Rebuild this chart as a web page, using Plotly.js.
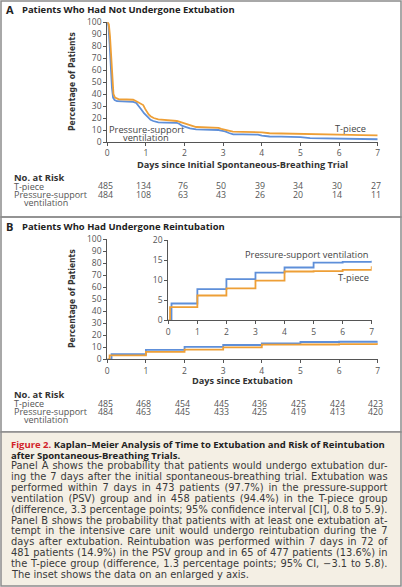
<!DOCTYPE html>
<html><head><meta charset="utf-8">
<script src="https://cdn.plot.ly/plotly-3.0.1.min.js"></script>
<style>html,body{margin:0;padding:0;background:#fff;}#chart{width:402px;height:587px;}</style>
</head><body><div id="chart"></div>
<script>
// ---------- Panel A data (percentage not yet extubated) ----------
const daysA_T = [0, 0.04, 0.07, 0.1, 0.13, 0.16, 0.2, 0.3, 0.5, 0.67, 0.75, 0.85, 0.93, 0.98, 1.02, 1.07, 1.12, 1.2, 1.32, 1.5, 1.7, 1.8, 1.9, 2.0, 2.1, 2.2, 2.3, 2.5, 2.7, 2.88, 2.95, 3.05, 3.15, 3.25, 3.5, 3.8, 4.0, 4.2, 4.5, 5.0, 5.3, 5.6, 6.0, 6.3, 6.6, 7.0];
const pctA_T  = [100, 98, 88, 70, 52, 40, 37, 35.6, 35.4, 35.2, 34, 32.5, 30.8, 27.6, 25, 23, 21.5, 20, 18.9, 18.6, 18, 17.5, 16.5, 15.7, 14.6, 13.5, 12.5, 12.2, 12, 11.8, 11, 10.2, 9.2, 8.7, 8.5, 8.3, 8.0, 7.3, 7.2, 7.0, 6.8, 6.6, 6.3, 6.0, 5.8, 5.6];
const daysA_P = [0, 0.03, 0.06, 0.09, 0.12, 0.15, 0.19, 0.25, 0.45, 0.67, 0.75, 0.82, 0.89, 0.95, 1.0, 1.06, 1.12, 1.19, 1.32, 1.5, 1.8, 1.87, 1.93, 2.0, 2.14, 2.3, 2.6, 2.88, 2.95, 3.05, 3.15, 3.26, 3.5, 3.9, 4.0, 4.2, 4.5, 5.0, 5.25, 5.5, 6.0, 6.3, 6.6, 7.0];
const pctA_P  = [100, 96, 82, 62, 45, 37, 35, 34, 33.7, 33.5, 32.5, 30, 26.7, 24, 22.3, 19.7, 18.5, 17.5, 16.4, 16.2, 16, 15, 13.6, 12.9, 11.4, 10.6, 10.4, 10, 9.5, 8.9, 7.5, 6.4, 6.3, 6.2, 5.4, 4.6, 4.4, 4.1, 3.3, 3.1, 2.9, 2.7, 2.5, 2.3];

// ---------- Panel B data (percentage reintubated) ----------
const daysB_T = [0, 0.06, 1, 2, 3, 4, 5, 6, 7, 7];
const pctB_T  = [0, 3.3, 6.2, 8.0, 9.9, 12.2, 12.3, 12.6, 12.6, 13.5];
const daysB_P = [0, 0.11, 1, 2, 3, 4, 5, 6, 7, 7];
const pctB_P  = [0, 4.2, 7.8, 10.3, 11.9, 13.2, 14.4, 14.6, 14.6, 14.9];

// ---------- Numbers at risk ----------
const riskDays  = [0, 1, 2, 3, 4, 5, 6, 7];
const riskA_T   = [485, 134, 76, 50, 39, 34, 30, 27];
const riskA_P   = [484, 108, 63, 43, 26, 20, 14, 11];
const riskB_T   = [485, 468, 454, 445, 436, 425, 424, 423];
const riskB_P   = [484, 463, 445, 433, 425, 419, 413, 420];

// ---------- Caption text ----------
const capTitle = [
  'Kaplan\u2013Meier Analysis of Time to Extubation and Risk of Reintubation',
  'after Spontaneous-Breathing Trials.'
];
const capBody = [
  'Panel A shows the probability that patients would undergo extubation dur-',
  'ing the 7 days after the initial spontaneous-breathing trial. Extubation was',
  'performed within 7 days in 473 patients (97.7%) in the pressure-support',
  'ventilation (PSV) group and in 458 patients (94.4%) in the T-piece group',
  '(difference, 3.3 percentage points; 95% confidence interval [CI], 0.8 to 5.9).',
  'Panel B shows the probability that patients with at least one extubation at-',
  'tempt in the intensive care unit would undergo reintubation during the 7',
  'days after extubation. Reintubation was performed within 7 days in 72 of',
  '481 patients (14.9%) in the PSV group and in 65 of 477 patients (13.6%) in',
  'the T-piece group (difference, 1.3 percentage points; 95% CI, \u22123.1 to 5.8).',
  'The inset shows the data on an enlarged y axis.'
];

const W = 402, H = 587;
const py = p => 1 - p / H;
const px = p => p / W;
const ORANGE = '#EE9F36', BLUE = '#5E8FD9';
const FONT = '"Open Sans", "Noto Sans", sans-serif';
const WIDE = '"DejaVu Sans", Verdana, sans-serif';
const NARROW = '"Liberation Sans Narrow", "DejaVu Sans Condensed", sans-serif';
const GREY = '#555';

// text measuring helper (used only to size/justify caption text)
const mctx = document.createElement('canvas').getContext('2d');
function measure(text, size, family, weight) {
  mctx.font = (weight || 'normal') + ' ' + size + 'px ' + family;
  return mctx.measureText(text).width;
}
function fitSize(text, target, family, weight, base) {
  const w = measure(text, base, family, weight);
  return w > 0 ? base * target / w : base;
}

function ax(extra) {
  return Object.assign({
    showline: true, linecolor: GREY, linewidth: 1, mirror: false,
    ticks: 'outside', ticklen: 3, tickwidth: 1, tickcolor: GREY,
    showgrid: false, zeroline: false, fixedrange: true,
    tickfont: {family: FONT, size: 8.5, color: GREY}
  }, extra);
}

const line = (c) => ({color: c, width: 1.8});
const traces = [
  {x: daysA_P, y: pctA_P, xaxis: 'x', yaxis: 'y', mode: 'lines', line: line(BLUE), hoverinfo: 'skip'},
  {x: daysA_T, y: pctA_T, xaxis: 'x', yaxis: 'y', mode: 'lines', line: line(ORANGE), hoverinfo: 'skip'},
  {x: daysB_P, y: pctB_P, xaxis: 'x2', yaxis: 'y2', mode: 'lines', line: Object.assign(line(BLUE), {shape: 'hv'}), hoverinfo: 'skip'},
  {x: daysB_T, y: pctB_T, xaxis: 'x2', yaxis: 'y2', mode: 'lines', line: Object.assign(line(ORANGE), {shape: 'hv'}), hoverinfo: 'skip'},
  {x: daysB_P, y: pctB_P, xaxis: 'x3', yaxis: 'y3', mode: 'lines', line: Object.assign(line(BLUE), {shape: 'hv'}), hoverinfo: 'skip'},
  {x: daysB_T, y: pctB_T, xaxis: 'x3', yaxis: 'y3', mode: 'lines', line: Object.assign(line(ORANGE), {shape: 'hv'}), hoverinfo: 'skip'}
];

const xDom = [px(107.3), px(377.7)];
const axisA0 = 142, axisB0 = 359.3;

const ann = [];
function txt(x, y, text, opts) {
  ann.push(Object.assign({
    xref: 'paper', yref: 'paper', x: px(x), y: py(y), text: text,
    showarrow: false, xanchor: 'left', yanchor: 'middle',
    borderpad: 0, borderwidth: 0,
    font: {family: FONT, size: 9, color: GREY}
  }, opts || {}));
}

// Panel titles
const titleSize = Math.min(10.5, Math.max(8.5, fitSize('Patients Who Had Not Undergone Extubation', 213, FONT, 'bold', 10)));
const TITLE_FONT = {family: FONT, size: titleSize, color: '#222'};
txt(6, 9.5, '<b>A</b>', {font: {family: FONT, size: 11, color: '#222'}});
txt(21.5, 9.5, '<b>Patients Who Had Not Undergone Extubation</b>', {font: TITLE_FONT});
txt(6, 226.5, '<b>B</b>', {font: {family: FONT, size: 11, color: '#222'}});
txt(21.5, 226.5, '<b>Patients Who Had Undergone Reintubation</b>', {font: TITLE_FONT});

// y-axis titles
[82, 299].forEach(yc => {
  txt(72, yc, '<b>Percentage of Patients</b>', {xanchor: 'center', textangle: -90, font: {family: NARROW, size: 8.5, color: '#333'}});
});

// x-axis titles
const XT_FONT = {family: FONT, size: 9.2, color: '#333'};
txt(242.5, axisA0 + 22, '<b>Days since Initial Spontaneous-Breathing Trial</b>', {xanchor: 'center', font: XT_FONT});
txt(242.5, axisB0 + 21, '<b>Days since Extubation</b>', {xanchor: 'center', font: XT_FONT});

// risk tables
function riskTable(base, axRef, tArr, pArr) {
  txt(14, base + 35, '<b>No. at Risk</b>', {font: {family: FONT, size: 9.4, color: '#333'}});
  txt(14, base + 44.5, 'T-piece');
  txt(14, base + 52.5, 'Pressure-support');
  txt(24, base + 60, 'ventilation');
  riskDays.forEach((d, i) => {
    ann.push({xref: axRef, yref: 'paper', x: d, y: py(base + 44.5), text: String(tArr[i]), showarrow: false,
      xanchor: 'center', yanchor: 'middle', xshift: -2, font: {family: FONT, size: 8.8, color: GREY}});
    ann.push({xref: axRef, yref: 'paper', x: d, y: py(base + 52.5), text: String(pArr[i]), showarrow: false,
      xanchor: 'center', yanchor: 'middle', xshift: -2, font: {family: FONT, size: 8.8, color: GREY}});
  });
}
riskTable(axisA0, 'x', riskA_T, riskA_P);
riskTable(axisB0, 'x2', riskB_T, riskB_P);

// curve labels
const lab = {showarrow: false, font: {family: FONT, size: 9.3, color: '#444'}, borderpad: 0};
ann.push(Object.assign({xref: 'x', yref: 'y', x: 1.02, y: 10.8, text: 'Pressure-support', xanchor: 'center', yanchor: 'middle'}, lab));
ann.push(Object.assign({xref: 'x', yref: 'y', x: 1.0, y: 3.8, text: 'ventilation', xanchor: 'center', yanchor: 'middle'}, lab));
ann.push(Object.assign({xref: 'x', yref: 'y', x: 6.3, y: 11, text: 'T-piece', xanchor: 'center', yanchor: 'middle'}, lab));
ann.push(Object.assign({xref: 'x3', yref: 'y3', x: 6.94, y: 16.5, text: 'Pressure-support ventilation', xanchor: 'right', yanchor: 'middle'}, lab));
ann.push(Object.assign({xref: 'x3', yref: 'y3', x: 6.94, y: 10.75, text: 'T-piece', xanchor: 'right', yanchor: 'middle'}, lab));

// caption: sizes fitted to the reference line widths, body justified
const CAP_X = 10.5, CAP_W = 376.5;
const capTitleSize = Math.min(10.5, Math.max(8.5, fitSize('Figure 2. ' + capTitle[0], CAP_W - 2, FONT, 'bold', 9.5)));
const bodySize = Math.min(11, Math.max(8.8, fitSize(capBody[capBody.length - 1], 237, WIDE, 'normal', 9.9)));
capTitle.forEach((t, i) => {
  const pre = i === 0 ? '<span style="color:#d2232a">Figure 2.</span> ' : '';
  txt(CAP_X, 444 + 11 * i, '<b>' + pre + t + '</b>', {font: {family: FONT, size: capTitleSize, color: '#222'}});
});
capBody.forEach((t, i) => {
  let s = t;
  if (i < capBody.length - 1) {
    const w = measure(t, bodySize, WIDE, 'normal');
    const n = (t.match(/ /g) || []).length;
    const ws = n ? (CAP_W - w) / n : 0;
    if (ws > -1.5) s = '<span style="word-spacing:' + ws.toFixed(2) + 'px">' + t + '</span>';
  }
  txt(CAP_X, 466 + 10.8 * i, s, {font: {family: WIDE, size: bodySize, color: '#3a3a3a'}});
});

const BORDER = {color: '#8c8c8c', width: 1.5};
const shapes = [
  {type: 'rect', xref: 'paper', yref: 'paper', x0: px(1), x1: px(401), y0: py(217), y1: py(1), line: BORDER, layer: 'below'},
  {type: 'rect', xref: 'paper', yref: 'paper', x0: px(1), x1: px(401), y0: py(432), y1: py(217), line: BORDER, layer: 'below'},
  {type: 'rect', xref: 'paper', yref: 'paper', x0: px(1), x1: px(401), y0: py(586), y1: py(432), fillcolor: '#f4efe4', line: BORDER, layer: 'below'}
];

const layout = {
  width: W, height: H, margin: {l: 0, r: 0, t: 0, b: 0},
  paper_bgcolor: '#fff', plot_bgcolor: 'rgba(0,0,0,0)', showlegend: false,
  xaxis: ax({domain: xDom, range: [0, 7], dtick: 1, anchor: 'y'}),
  yaxis: ax({domain: [py(axisA0), py(22)], range: [0, 100], dtick: 10, anchor: 'x'}),
  xaxis2: ax({domain: xDom, range: [0, 7], dtick: 1, anchor: 'y2'}),
  yaxis2: ax({domain: [py(axisB0), py(239)], range: [0, 100], dtick: 10, anchor: 'x2'}),
  xaxis3: ax({domain: [px(168.3), px(371.7)], range: [0, 7], dtick: 1, anchor: 'y3'}),
  yaxis3: ax({domain: [py(320.3), py(240.3)], range: [0, 20], dtick: 5, anchor: 'x3'}),
  annotations: ann, shapes: shapes
};

Plotly.newPlot('chart', traces, layout, {staticPlot: true, displayModeBar: false});
</script></body></html>
